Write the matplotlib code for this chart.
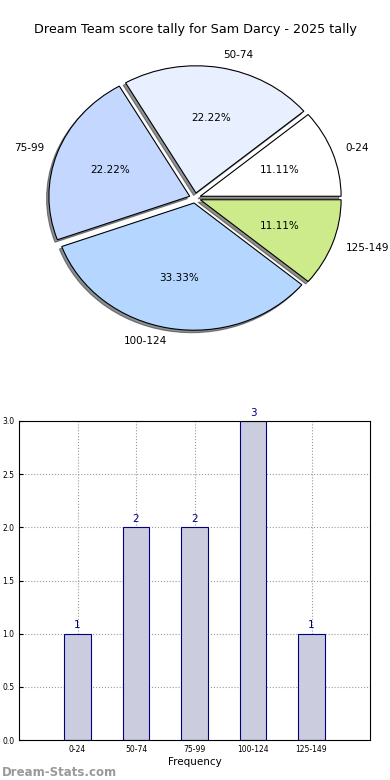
import matplotlib
matplotlib.use("Agg")
import matplotlib.pyplot as plt

categorias = ['0-24', '50-74', '75-99', '100-124', '125-149']
frecuencias = [1, 2, 2, 3, 1]
colores_pie = ['#ffffff', '#e8f0ff', '#c4d8ff', '#b4d6ff', '#ceeb8c']
titulo = 'Dream Team score tally for Sam Darcy - 2025 tally'

fig = plt.figure(figsize=(3.9, 7.8), dpi=100)

# pie de arriba
ax1 = fig.add_axes([19/390, 1 - 357/780, 352/390, 318/780])
ax1.pie(frecuencias, labels=categorias, colors=colores_pie, autopct='%.2f%%',
        startangle=0, explode=[0.04]*len(frecuencias),
        shadow={'ox': -0.012, 'oy': -0.014, 'shade': 0.85},
        wedgeprops={'edgecolor': 'black', 'linewidth': 0.8},
        textprops={'fontsize': 7.5})
ax1.set_aspect('auto')
ax1.set_xlim(-1.25, 1.25)
ax1.set_ylim(-1.25, 1.25)
fig.text(0.5, 1 - 30/780, titulo, ha='center', va='center', fontsize=9.2)

# barras de abajo
ax2 = fig.add_axes([19/390, 40/780, 351/390, 319/780])
x = range(len(categorias))
ax2.bar(x, frecuencias, width=0.45, color='#ccccdf', edgecolor='navy', linewidth=0.8, zorder=2)
for i, v in enumerate(frecuencias):
    ax2.text(i, v + 0.03, str(v), ha='center', va='bottom', color='navy', fontsize=7.5)
ax2.set_xlim(-1, len(categorias))
ax2.set_ylim(0, 3)
ax2.set_xticks(list(x))
ax2.set_xticklabels(categorias, fontsize=5.5)
ax2.set_yticks([0, 0.5, 1, 1.5, 2, 2.5, 3])
ax2.set_yticklabels(['0.0', '0.5', '1.0', '1.5', '2.0', '2.5', '3.0'], fontsize=5.5)
ax2.tick_params(direction='in', length=3)
ax2.grid(True, linestyle=':', color='#999999', linewidth=0.8, zorder=0)
ax2.set_xlabel('Frequency', fontsize=7.5, labelpad=2)

fig.text(0.005, 8/780, 'Dream-Stats.com', color='#999999', fontsize=8.5, fontweight='bold', va='center')

plt.savefig('out.png', dpi=100)
